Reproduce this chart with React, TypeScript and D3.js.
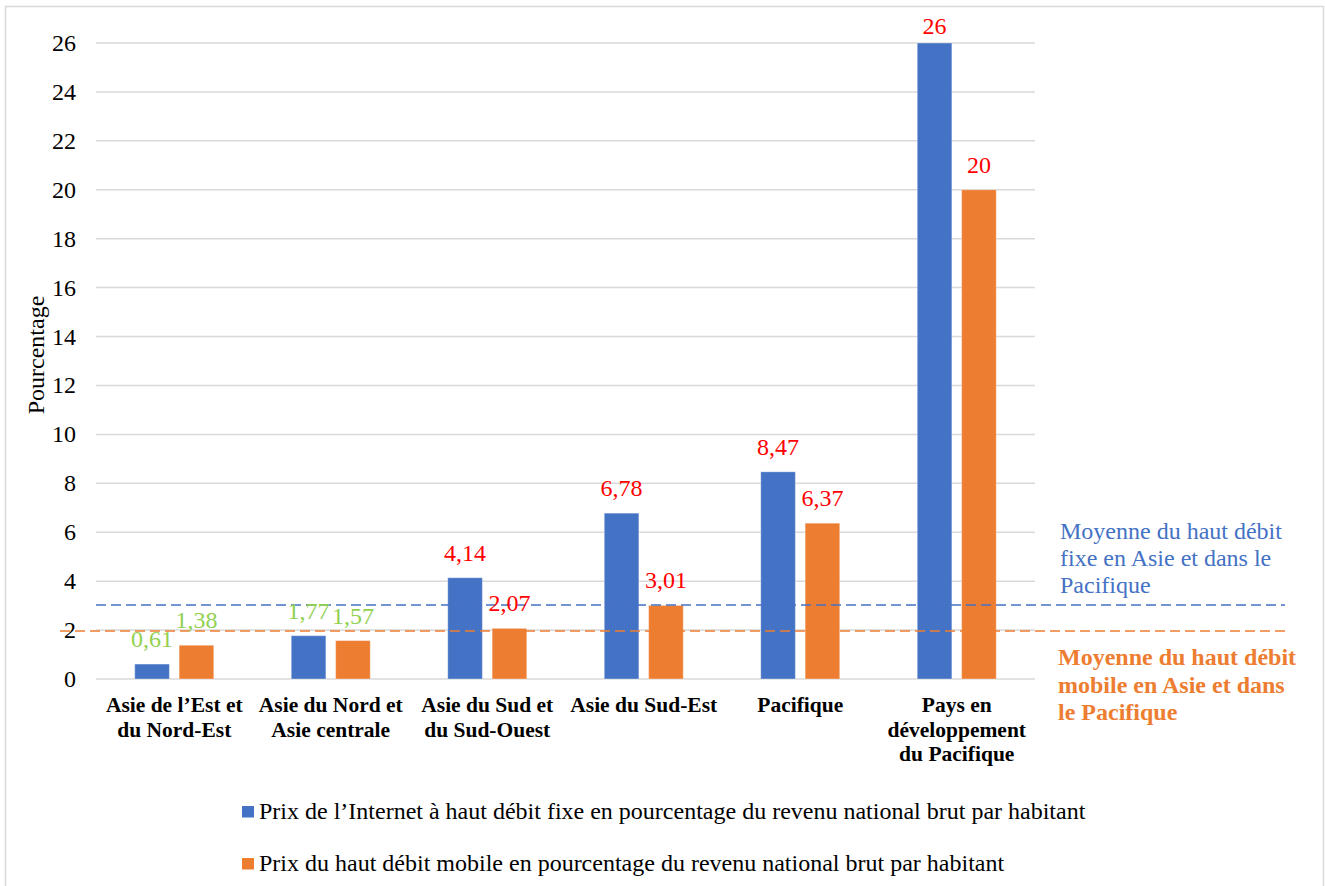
import React from "react";
import * as d3 from "d3";

// Regions (multi-line labels)
const categories: string[][] = [
  ["Asie de l’Est et", "du Nord-Est"],
  ["Asie du Nord et", "Asie centrale"],
  ["Asie du Sud et", "du Sud-Ouest"],
  ["Asie du Sud-Est"],
  ["Pacifique"],
  ["Pays en", "développement", "du Pacifique"],
];

// Fixed broadband price, % of GNI per capita
const fixedValues: number[] = [0.61, 1.77, 4.14, 6.78, 8.47, 26];
// Mobile broadband price, % of GNI per capita
const mobileValues: number[] = [1.38, 1.57, 2.07, 3.01, 6.37, 20];

const fixedLabels: string[] = ["0,61", "1,77", "4,14", "6,78", "8,47", "26"];
const mobileLabels: string[] = ["1,38", "1,57", "2,07", "3,01", "6,37", "20"];

// Regional averages (dashed reference lines)
const fixedAverage = 3.03;
const mobileAverage = 1.96;

const yTicks: number[] = [0, 2, 4, 6, 8, 10, 12, 14, 16, 18, 20, 22, 24, 26];

const legendItems: string[] = [
  "Prix de l’Internet à haut débit fixe en pourcentage du revenu national brut par habitant",
  "Prix du haut débit mobile en pourcentage du revenu national brut par habitant",
];

const fixedNote: string[] = ["Moyenne du haut débit", "fixe en Asie et dans le", "Pacifique"];
const mobileNote: string[] = ["Moyenne du haut débit", "mobile en Asie et dans", "le Pacifique"];

const BLUE = "#4472C4";
const ORANGE = "#ED7D31";
const GRID = "#d9d9d9";
const FONT = '"Liberation Serif", "Times New Roman", serif';

export default function App() {
  const W = 1325;
  const H = 886;
  const left = 96;
  const right = 1035;
  const top = 43;
  const bottom = 679;

  const y = d3.scaleLinear().domain([0, 26]).range([bottom, top]);
  const x0 = d3
    .scaleBand<number>()
    .domain(categories.map((_, i) => i))
    .range([left, right])
    .padding(0);
  const groupW = 79;
  const x1 = d3
    .scaleBand<string>()
    .domain(["fixe", "mobile"])
    .range([0, groupW])
    .paddingInner(0.22);

  const labelColor = (i: number) => (i < 2 ? "#92D050" : "#FF0000");

  const series = [
    { key: "fixe", values: fixedValues, labels: fixedLabels, color: BLUE },
    { key: "mobile", values: mobileValues, labels: mobileLabels, color: ORANGE },
  ];

  const tf = { fontFamily: FONT };
  const catX = (i: number) => (x0(i) as number) + x0.bandwidth() / 2;

  return (
    <svg
      width={W}
      height={H}
      style={{ position: "absolute", left: 0, top: 0, background: "#fff", fontFamily: FONT }}
    >
      <rect x={0} y={0} width={W} height={H} fill="#fff" />
      {/* outer frame */}
      <path d={`M5.5,${H + 2} V6.5 H1323.5 V${H + 2}`} fill="none" stroke={GRID} strokeWidth={1.5} />

      {/* grid + y tick labels */}
      {yTicks.map((t) => (
        <g key={t}>
          <line x1={left} x2={right} y1={y(t)} y2={y(t)} stroke={GRID} strokeWidth={1.5} />
          <text x={76} y={y(t) + 8} textAnchor="end" fontSize={24} fill="#000" style={tf}>
            {t}
          </text>
        </g>
      ))}

      {/* axis title */}
      <text
        transform={`translate(44,355) rotate(-90)`}
        textAnchor="middle"
        fontSize={24}
        fill="#000"
        style={tf}
      >
        Pourcentage
      </text>

      {/* bars */}
      {series.map((s) =>
        s.values.map((v, i) => {
          const bx = catX(i) - groupW / 2 + (x1(s.key) as number);
          return (
            <rect
              key={s.key + i}
              x={bx}
              y={y(v)}
              width={x1.bandwidth()}
              height={y(0) - y(v)}
              fill={s.color}
              stroke="#ffffff"
              strokeOpacity={0.35}
              strokeWidth={1}
            />
          );
        })
      )}

      {/* average lines */}
      <line
        x1={left}
        x2={1285}
        y1={y(fixedAverage)}
        y2={y(fixedAverage)}
        stroke={BLUE}
        strokeWidth={1.5}
        strokeDasharray="10,5"
      />
      <line
        x1={60}
        x2={1285}
        y1={y(mobileAverage)}
        y2={y(mobileAverage)}
        stroke={ORANGE}
        strokeWidth={1.5}
        strokeDasharray="10,5"
      />

      {/* value labels */}
      {series.map((s) =>
        s.values.map((v, i) => {
          const cx = catX(i) - groupW / 2 + (x1(s.key) as number) + x1.bandwidth() / 2;
          const ly = Math.max(y(v) - 17, 34);
          return (
            <text
              key={"l" + s.key + i}
              x={cx}
              y={ly}
              textAnchor="middle"
              fontSize={24}
              fill={labelColor(i)}
              style={tf}
            >
              {s.labels[i]}
            </text>
          );
        })
      )}

      {/* category labels */}
      {categories.map((lines, i) => (
        <text
          key={"c" + i}
          x={catX(i)}
          y={712}
          textAnchor="middle"
          fontSize={21.5}
          fontWeight="bold"
          fill="#000"
          style={tf}
        >
          {lines.map((ln, j) => (
            <tspan key={j} x={catX(i)} dy={j === 0 ? 0 : 24.5}>
              {ln}
            </tspan>
          ))}
        </text>
      ))}

      {/* average annotations */}
      <text x={1060} y={539} fontSize={24} fill={BLUE} style={tf}>
        {fixedNote.map((ln, j) => (
          <tspan key={j} x={1060} dy={j === 0 ? 0 : 27}>
            {ln}
          </tspan>
        ))}
      </text>
      <text x={1058} y={665} fontSize={24} fontWeight="bold" fill={ORANGE} style={tf}>
        {mobileNote.map((ln, j) => (
          <tspan key={j} x={1058} dy={j === 0 ? 0 : 27.5}>
            {ln}
          </tspan>
        ))}
      </text>

      {/* legend */}
      {legendItems.map((txt, i) => (
        <g key={"lg" + i} transform={`translate(242,${806 + i * 52})`}>
          <rect x={0} y={0} width={12} height={11.5} fill={i === 0 ? BLUE : ORANGE} />
          <text x={17} y={13} fontSize={24} fill="#000" style={tf}>
            {txt}
          </text>
        </g>
      ))}
    </svg>
  );
}
